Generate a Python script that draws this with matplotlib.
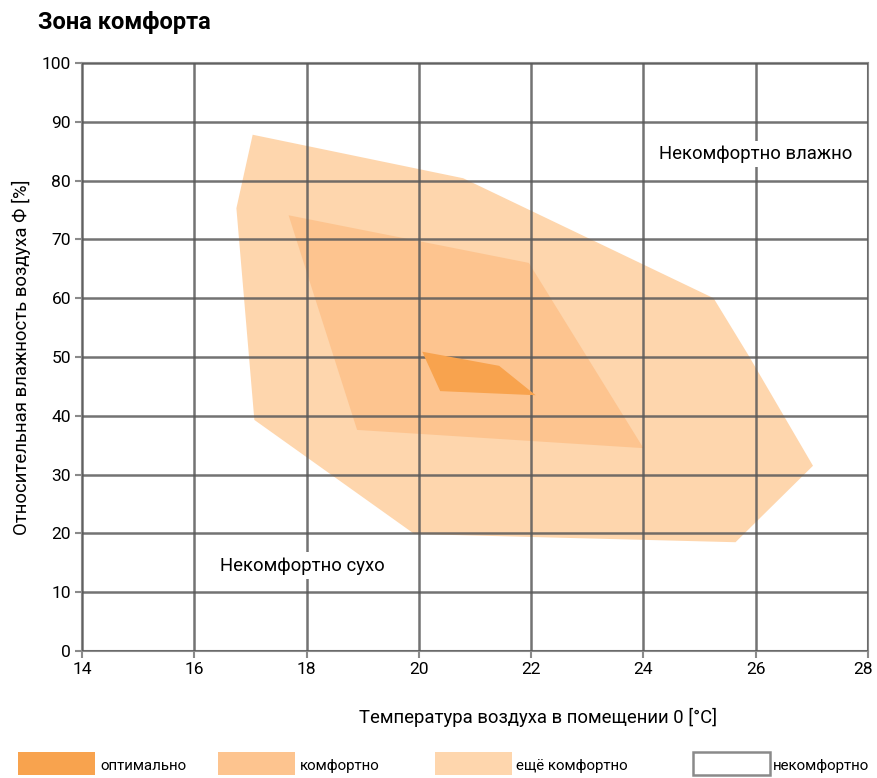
import matplotlib.pyplot as plt
import matplotlib.transforms as mtransforms
from matplotlib.patches import Rectangle

plt.rcParams['font.family'] = ['Roboto', 'DejaVu Sans']

# зоны: температура [°C], влажность [%]
light_t = [17.04, 20.79, 25.25, 25.87, 27.02, 25.64, 19.92, 17.07, 16.75]
light_h = [87.8, 80.4, 60.0, 50.3, 31.5, 18.5, 19.9, 39.3, 75.3]
mid_t = [17.68, 21.96, 24.0, 18.9, 18.05]
mid_h = [74.1, 66.0, 34.5, 37.6, 63.0]
opt_t = [20.06, 21.43, 22.08, 20.38]
opt_h = [50.9, 48.5, 43.5, 44.2]

x_ticks = [14, 16, 18, 20, 22, 24, 26, 28]
y_ticks = [0, 10, 20, 30, 40, 50, 60, 70, 80, 90, 100]

c_opt = '#f8a34e'
c_mid = '#fdc48f'
c_light = '#fed6ad'
grid_c = '#5a5a5a'

fig = plt.figure(figsize=(8.78, 7.78), dpi=100)
ax = fig.add_axes([82/878, 127/778, 786/878, 588/778])

ax.fill(light_t, light_h, color=c_light, lw=0, zorder=1)
ax.fill(mid_t, mid_h, color=c_mid, lw=0, zorder=2)
ax.fill(opt_t, opt_h, color=c_opt, lw=0, zorder=3)

ax.set_xlim(14, 28)
ax.set_ylim(0, 100)
ax.set_xticks(x_ticks)
ax.set_yticks(y_ticks)
ax.grid(True, color=grid_c, lw=1.8, alpha=0.85, zorder=4)
ax.set_axisbelow(False)
for s in ax.spines.values():
    s.set_color('#8a8a8a')
    s.set_linewidth(1.5)
ax.tick_params(labelsize=12.5, length=5, width=1.5, color='#8a8a8a', pad=3)

# последняя подпись оси X немного левее, чтобы не обрезалась
last = ax.get_xticklabels()[-1]
last.set_transform(last.get_transform() +
                   mtransforms.ScaledTranslation(-5/100, 0, fig.dpi_scale_trans))

ax.text(26.0, 84.5, 'Некомфортно влажно', fontsize=13.3, ha='center', va='center',
        bbox=dict(facecolor='white', edgecolor='none', pad=3), zorder=6)
ax.text(17.93, 14.5, 'Некомфортно сухо', fontsize=13.3, ha='center', va='center',
        bbox=dict(facecolor='white', edgecolor='none', pad=3), zorder=6)

ax.set_xlabel('Температура воздуха в помещении 0 [°C]', fontsize=13.3)
ax.xaxis.set_label_coords((538 - 82) / 786, -57 / 588)
ax.set_ylabel('Относительная влажность воздуха Ф [%]', fontsize=13.3, labelpad=8)

fig.text(38/878, 1 - 22/778, 'Зона комфорта', fontsize=17, fontweight='bold',
         ha='left', va='center')

# легенда
legend_items = [
    (18, 100, c_opt, None, 'оптимально'),
    (218, 300, c_mid, None, 'комфортно'),
    (435, 516, c_light, None, 'ещё комфортно'),
    (693, 773, 'white', '#8a8a8a', 'некомфортно'),
]
for x0, xt, fc, ec, label in legend_items:
    fig.patches.append(Rectangle((x0/878, 1 - 775/778), 77/878, 23/778,
                                 transform=fig.transFigure, facecolor=fc,
                                 edgecolor=ec if ec else 'none', lw=1.8))
    fig.text(xt/878, 1 - 766/778, label, fontsize=10.8, ha='left', va='center')

fig.savefig('out.png', dpi=100)
